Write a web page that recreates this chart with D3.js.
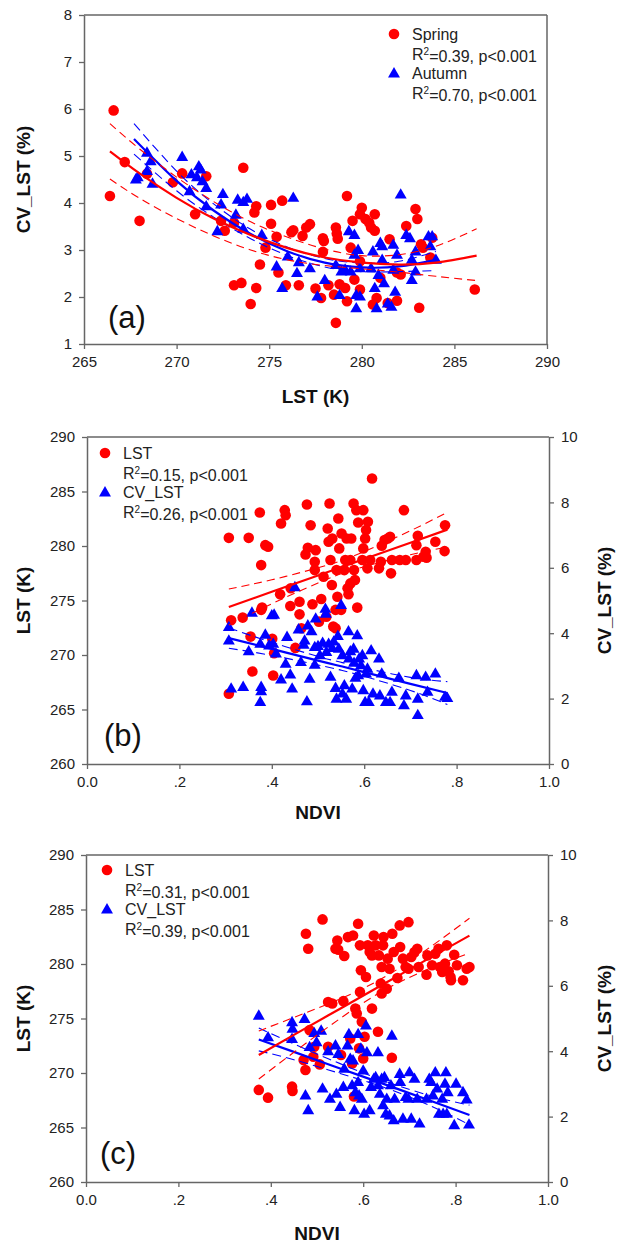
<!DOCTYPE html>
<html>
<head>
<meta charset="utf-8">
<script src="https://cdn.jsdelivr.net/npm/d3@7"></script>
<style>
  body { margin: 0; background: #fff; }
  svg { display: block; font-family: "Liberation Sans", Arial, sans-serif; }
</style>
</head>
<body>
<svg id="chart" width="617" height="1245"></svg>
<script>
/*
  Three scatter panels: CV_LST vs LST, then LST / CV_LST vs NDVI
*/

// ---- panel (a) : [LST, CV_LST] ----
var springPts = [[266.6,5.97],[266.4,4.15],[267.2,4.87],[268.0,3.62],[268.4,4.62],[269.8,4.44],[270.3,4.63],[271.0,3.76],
  [271.6,4.57],[272.4,3.62],[272.6,3.41],[273.1,3.58],[273.1,2.25],[273.5,2.30],[273.6,4.75],[274.0,1.85],[274.2,3.80],
  [274.3,3.93],[274.3,2.19],[274.5,2.69],[274.8,3.05],[275.1,3.56],[275.1,3.96],[275.4,3.28],[275.5,2.52],[275.7,4.05],
  [275.9,2.25],[276.2,3.38],[276.3,3.42],[276.6,2.25],[276.8,3.30],[277.0,3.48],[277.2,3.55],[277.5,2.18],[277.8,1.98],
  [277.9,3.25],[277.95,3.19],[277.9,2.96],[278.2,2.25],[278.5,2.05],[278.6,3.48],[278.65,3.35],[278.7,3.24],[278.6,1.45],
  [278.8,2.27],[279.1,2.19],[279.2,4.15],[279.2,1.91],[279.4,3.05],[279.5,3.62],[279.6,2.37],[279.9,3.76],[279.9,2.16],
  [280.0,3.90],[279.9,2.76],[280.2,3.66],[280.4,3.58],[280.5,3.48],[280.6,1.84],[280.7,3.41],[280.7,3.76],[280.8,1.98],
  [281.0,2.41],[281.4,1.87],[281.5,3.23],[281.9,2.52],[281.9,1.92],[282.1,2.48],[282.4,3.51],[282.9,3.87],[283.0,3.66],
  [283.1,1.77],[283.2,3.12],[283.3,3.05],[283.8,3.26],[283.7,2.84],[286.1,2.16]];
var autumnPts = [[267.8,4.51],[267.9,4.56],[268.4,5.08],[268.4,4.69],[268.6,4.90],[268.7,4.42],[270.3,4.99],[270.7,4.26],
  [270.8,4.62],[271.1,4.56],[271.2,4.79],[271.3,4.72],[271.4,4.47],[271.6,4.33],[271.6,3.94],[272.2,3.41],[272.5,4.20],
  [272.4,3.98],[273.2,3.76],[273.3,4.08],[273.6,4.03],[273.8,4.10],[273.6,3.46],[274.6,3.33],[275.4,2.66],[275.7,2.20],
  [276.0,2.87],[276.3,4.12],[276.5,2.52],[276.6,2.75],[277.2,2.62],[277.6,2.02],[278.0,2.37],[278.6,2.69],[278.8,2.05],
  [278.9,2.55],[279.1,2.59],[279.3,3.41],[279.4,2.55],[279.6,3.33],[279.6,2.91],[279.7,2.05],[279.7,1.77],[279.8,3.01],
  [279.9,2.02],[279.9,2.62],[280.5,2.62],[280.6,2.98],[280.7,2.20],[280.8,1.77],[280.9,2.48],[281.0,3.16],[281.1,3.09],
  [281.1,2.80],[281.2,2.30],[281.4,1.87],[281.6,1.80],[281.7,2.59],[281.7,3.12],[281.8,2.12],[281.9,2.91],[282.1,4.19],
  [282.4,3.33],[282.6,3.26],[282.7,2.80],[282.7,2.37],[282.9,2.98],[282.9,2.55],[283.6,3.30],[283.7,3.09],[283.8,3.30],
  [284.0,2.80]];
var springFit = [[266.4,5.10],[268,4.63],[270,4.11],[272,3.67],[274,3.32],[276,3.04],[278,2.84],[280,2.73],[282,2.69],[284,2.73],[286.2,2.88]];
var springUp  = [[266.4,5.69],[268,5.15],[270,4.55],[272,4.03],[274,3.60],[276,3.27],[278,3.02],[280,2.88],[282,2.90],[284,3.08],[286.2,3.45]];
var springLow = [[266.4,4.51],[268,4.10],[270,3.67],[272,3.30],[274,3.00],[276,2.79],[278,2.67],[280,2.60],[282,2.53],[284,2.44],[286.2,2.35]];
var autumnFit = [[267.7,5.36],[270,4.47],[272,3.84],[274,3.34],[276,2.97],[278,2.73],[280,2.63],[282,2.65],[284,2.79]];
var autumnUp  = [[267.7,5.69],[270,4.68],[272,3.98],[274,3.44],[276,3.06],[278,2.82],[280,2.72],[282,2.76],[284,2.97]];
var autumnLow = [[267.7,5.04],[270,4.26],[272,3.70],[274,3.24],[276,2.88],[278,2.64],[280,2.54],[282,2.54],[284,2.56]];

// ---- panel (b) : [NDVI, LST] and [NDVI, CV_LST] ----
var bLstPts = [[0.307,280.75],[0.307,266.44],[0.312,273.19],[0.337,273.43],[0.350,280.75],[0.354,271.69],[0.358,268.49],
  [0.374,283.07],[0.377,278.25],[0.379,274.35],[0.377,274.14],[0.386,280.08],[0.392,279.93],[0.401,271.48],[0.405,270.16],
  [0.403,268.12],[0.420,282.07],[0.418,275.57],[0.428,283.29],[0.430,282.83],[0.440,274.50],[0.441,276.12],[0.451,270.65],
  [0.460,274.89],[0.460,273.73],[0.464,272.45],[0.476,283.81],[0.473,279.23],[0.478,279.84],[0.484,281.91],[0.488,274.65],
  [0.495,279.62],[0.493,278.56],[0.493,277.79],[0.502,273.06],[0.507,275.14],[0.512,277.18],[0.518,273.52],[0.521,281.61],
  [0.523,280.39],[0.525,283.90],[0.527,278.71],[0.530,276.42],[0.531,280.69],[0.533,272.61],[0.538,272.45],[0.538,274.14],
  [0.540,277.79],[0.542,275.35],[0.544,282.52],[0.546,279.78],[0.550,274.14],[0.551,281.15],[0.557,277.79],[0.559,278.71],
  [0.562,280.69],[0.564,276.12],[0.566,275.57],[0.570,278.71],[0.570,276.57],[0.572,280.69],[0.577,283.90],[0.578,277.79],
  [0.580,276.88],[0.583,283.29],[0.585,274.35],[0.587,282.16],[0.596,278.71],[0.598,283.29],[0.598,279.78],[0.602,280.69],
  [0.604,281.46],[0.607,277.95],[0.608,282.22],[0.613,278.71],[0.617,286.19],[0.632,277.95],[0.636,278.56],[0.638,280.02],
  [0.644,280.54],[0.651,280.69],[0.656,280.85],[0.658,277.49],[0.660,278.71],[0.677,278.71],[0.686,283.29],[0.690,278.71],
  [0.713,278.71],[0.716,280.94],[0.713,280.08],[0.728,279.01],[0.733,279.47],[0.735,278.92],[0.754,280.39],[0.774,279.53],
  [0.775,281.91]];
var bCvPts = [[0.307,4.20],[0.307,3.79],[0.312,2.32],[0.338,2.37],[0.350,3.46],[0.357,4.64],[0.375,3.69],[0.377,2.37],
  [0.377,2.24],[0.375,1.91],[0.386,3.97],[0.400,4.56],[0.405,4.58],[0.394,3.64],[0.403,3.69],[0.409,3.39],[0.420,2.60],
  [0.430,3.08],[0.433,3.90],[0.440,2.75],[0.444,2.32],[0.450,5.42],[0.458,4.13],[0.463,3.13],[0.469,3.66],[0.471,3.79],
  [0.476,1.93],[0.478,4.25],[0.482,2.62],[0.486,4.07],[0.493,3.59],[0.493,3.05],[0.495,4.46],[0.500,3.62],[0.504,3.34],
  [0.510,3.72],[0.516,4.76],[0.517,4.61],[0.518,3.44],[0.523,3.69],[0.527,2.68],[0.531,3.56],[0.534,3.76],[0.538,2.34],
  [0.540,2.01],[0.543,3.93],[0.545,3.54],[0.550,4.88],[0.553,3.34],[0.553,2.17],[0.557,2.42],[0.561,2.01],[0.566,4.07],
  [0.567,3.24],[0.570,3.46],[0.574,2.32],[0.577,3.54],[0.578,3.11],[0.581,2.65],[0.585,3.95],[0.587,2.73],[0.589,3.24],
  [0.593,3.03],[0.596,3.34],[0.598,2.27],[0.602,1.91],[0.604,2.78],[0.607,2.93],[0.610,1.91],[0.615,3.49],[0.619,2.17],
  [0.632,3.24],[0.634,2.11],[0.638,2.78],[0.647,1.91],[0.656,1.91],[0.660,2.22],[0.675,2.65],[0.686,1.81],[0.690,2.11],
  [0.713,2.73],[0.716,2.01],[0.716,1.51],[0.733,2.68],[0.737,2.22],[0.754,2.78],[0.775,2.07],[0.780,2.03]];
var bLstFit = [[0.307,274.4],[0.4,275.8],[0.5,277.3],[0.55,278.05],[0.6,278.8],[0.7,280.3],[0.78,281.5]];
var bLstUp  = [[0.307,276.05],[0.4,276.9],[0.5,278.0],[0.55,278.65],[0.6,279.5],[0.7,281.4],[0.78,283.1]];
var bLstLow = [[0.307,272.75],[0.4,274.7],[0.5,276.6],[0.55,277.45],[0.6,278.1],[0.7,279.2],[0.78,279.9]];
var bCvFit = [[0.307,3.85],[0.4,3.52],[0.5,3.16],[0.55,2.99],[0.6,2.81],[0.7,2.45],[0.78,2.17]];
var bCvUp  = [[0.307,4.16],[0.4,3.72],[0.5,3.29],[0.55,3.11],[0.6,2.94],[0.7,2.65],[0.78,2.52]];
var bCvLow = [[0.307,3.54],[0.4,3.32],[0.5,3.03],[0.55,2.87],[0.6,2.68],[0.7,2.25],[0.78,1.82]];

// ---- panel (c) ----
var cLstPts = [[0.374,268.45],[0.394,267.74],[0.446,268.75],[0.447,268.35],[0.471,271.19],[0.476,282.77],[0.475,270.27],
  [0.481,281.40],[0.484,273.93],[0.492,271.49],[0.494,272.41],[0.506,270.79],[0.512,284.09],[0.524,276.52],[0.524,272.41],
  [0.533,276.37],[0.540,281.40],[0.544,282.16],[0.546,281.31],[0.552,271.65],[0.557,276.59],[0.559,280.73],[0.567,282.47],
  [0.572,273.17],[0.576,270.88],[0.578,282.62],[0.580,267.84],[0.583,275.91],[0.586,275.46],[0.589,283.69],[0.591,272.26],
  [0.593,281.71],[0.593,277.44],[0.595,279.42],[0.597,274.70],[0.600,271.34],[0.603,273.32],[0.606,278.81],[0.610,281.71],
  [0.614,281.10],[0.619,280.79],[0.619,275.91],[0.623,282.62],[0.627,281.71],[0.632,273.78],[0.634,280.79],[0.638,278.20],
  [0.640,279.73],[0.643,281.71],[0.644,282.47],[0.640,277.29],[0.651,277.74],[0.653,280.49],[0.657,279.57],[0.662,271.40],
  [0.663,282.77],[0.666,281.10],[0.674,278.72],[0.679,283.54],[0.680,281.56],[0.686,280.49],[0.692,279.73],[0.698,283.84],
  [0.698,279.57],[0.704,280.64],[0.711,281.10],[0.717,281.40],[0.720,279.73],[0.737,279.02],[0.739,280.79],[0.749,279.88],
  [0.756,280.94],[0.763,281.40],[0.766,279.73],[0.771,279.27],[0.777,280.03],[0.781,281.71],[0.785,279.33],[0.789,278.81],
  [0.790,278.51],[0.797,280.85],[0.803,279.88],[0.816,278.51],[0.824,279.57],[0.830,279.73]];
var cCvPts = [[0.374,5.10],[0.394,4.44],[0.446,4.90],[0.447,4.70],[0.446,4.39],[0.473,5.00],[0.475,2.66],[0.481,2.21],
  [0.484,4.14],[0.494,4.57],[0.499,4.29],[0.509,4.64],[0.512,2.87],[0.524,4.01],[0.528,2.56],[0.540,4.19],[0.542,2.71],
  [0.546,3.93],[0.550,2.31],[0.557,2.92],[0.559,3.48],[0.566,4.19],[0.569,4.54],[0.572,3.78],[0.576,2.97],[0.578,3.73],
  [0.581,2.21],[0.583,2.76],[0.589,4.54],[0.589,3.07],[0.591,2.66],[0.595,4.09],[0.597,2.56],[0.600,3.42],[0.602,2.10],
  [0.606,4.80],[0.608,3.98],[0.614,2.21],[0.617,2.92],[0.623,3.17],[0.627,3.22],[0.632,3.98],[0.632,2.97],[0.636,2.71],
  [0.640,3.17],[0.643,2.36],[0.646,3.22],[0.649,2.10],[0.651,2.56],[0.657,2.05],[0.660,2.97],[0.662,4.49],[0.666,1.90],
  [0.668,2.56],[0.679,3.32],[0.680,3.07],[0.686,1.95],[0.692,2.61],[0.698,2.56],[0.700,3.37],[0.704,1.95],[0.711,3.17],
  [0.717,2.56],[0.722,1.80],[0.737,2.56],[0.743,3.17],[0.747,3.07],[0.751,2.66],[0.756,3.37],[0.760,2.87],[0.764,2.10],
  [0.771,2.56],[0.773,2.10],[0.777,3.02],[0.779,3.37],[0.781,2.10],[0.783,2.76],[0.797,1.75],[0.801,3.02],[0.816,2.76],
  [0.824,2.54],[0.829,1.77]];
var cLstFit = [[0.374,271.65],[0.45,273.5],[0.55,275.9],[0.65,278.3],[0.75,280.7],[0.83,282.6]];
var cLstUp  = [[0.374,273.85],[0.45,275.1],[0.55,276.8],[0.65,278.9],[0.75,281.7],[0.83,284.2]];
var cLstLow = [[0.374,269.45],[0.45,271.9],[0.55,275.0],[0.65,277.7],[0.75,279.7],[0.83,281.0]];
var cCvFit = [[0.374,4.36],[0.45,3.98],[0.55,3.47],[0.65,2.97],[0.75,2.46],[0.83,2.05]];
var cCvUp  = [[0.374,4.71],[0.45,4.22],[0.55,3.62],[0.65,3.07],[0.75,2.62],[0.83,2.35]];
var cCvLow = [[0.374,4.01],[0.45,3.74],[0.55,3.32],[0.65,2.87],[0.75,2.30],[0.83,1.75]];

// ticks and legend text
var lstKTicks = [265, 270, 275, 280, 285, 290];
var cvATicks = [1, 2, 3, 4, 5, 6, 7, 8];
var ndviTicks = [0, 0.2, 0.4, 0.6, 0.8, 1.0];
var lstTicks = [260, 265, 270, 275, 280, 285, 290];
var cvTicks = [0, 2, 4, 6, 8, 10];
var legendNamesA = ["Spring", "Autumn"];
var legendR2A = ["0.39", "0.70"];
var legendNamesBC = ["LST", "CV_LST"];
var legendR2B = ["0.15", "0.26"];
var legendR2C = ["0.31", "0.39"];

var RED = "#ff0000", BLUE = "#0000ff", AXIS = "#666", INK = "#222";
var svg = d3.select("#chart");
svg.append("rect").attr("width", 617).attr("height", 1245).attr("fill", "#fff");

function ndviFmt(d) {
  if (d === 0) return "0.0";
  if (d === 1) return "1.0";
  return d3.format(".1f")(d).replace(/^0/, "");
}

function styleAxis(g) {
  g.select(".domain").attr("stroke", AXIS).attr("stroke-width", 1.5);
  g.selectAll(".tick line").attr("stroke", AXIS).attr("stroke-width", 1.3);
  g.selectAll(".tick text").attr("fill", INK).style("font-size", "15px")
    .style("font-family", "'Liberation Sans', Arial, sans-serif");
}

function drawPanel(p) {
  var box = p.box;
  var x = d3.scaleLinear().domain(p.xDomain).range([box.left, box.right]),
      y = d3.scaleLinear().domain(p.yDomain).range([box.bottom, box.top]),
      y2 = p.y2Domain ? d3.scaleLinear().domain(p.y2Domain).range([box.bottom, box.top]) : y;
  var g = svg.append("g");

  // frame lines (top, and right when there is no second axis)
  g.append("line").attr("x1", box.left).attr("x2", box.right).attr("y1", box.top).attr("y2", box.top)
    .attr("stroke", AXIS).attr("stroke-width", 1.5);
  if (!p.y2Domain) {
    g.append("line").attr("x1", box.right).attr("x2", box.right).attr("y1", box.top).attr("y2", box.bottom)
      .attr("stroke", AXIS).attr("stroke-width", 1.5);
  }

  // points
  g.selectAll(".dot").data(p.redPts).enter().append("circle")
    .attr("cx", function(d) { return x(d[0]); })
    .attr("cy", function(d) { return y(d[1]); })
    .attr("r", 5.3).attr("fill", RED);
  g.selectAll(".tri").data(p.bluePts).enter().append("path")
    .attr("d", d3.symbol().type(d3.symbolTriangle).size(62))
    .attr("transform", function(d) { return "translate(" + x(d[0]) + "," + (y2(d[1]) + 1) + ")"; })
    .attr("fill", BLUE);

  // fit lines
  function line(sc) {
    return d3.line().x(function(d) { return x(d[0]); }).y(function(d) { return sc(d[1]); }).curve(d3.curveNatural);
  }
  [[p.blueFit[1], BLUE, 1.1, "9,5"], [p.blueFit[2], BLUE, 1.1, "9,5"], [p.blueFit[0], BLUE, 2.2, null]].forEach(function(l) {
    g.append("path").datum(l[0]).attr("d", line(y2)).attr("fill", "none")
      .attr("stroke", l[1]).attr("stroke-width", l[2]).attr("stroke-dasharray", l[3]);
  });
  [[p.redFit[1], RED, 1.1, "8,5"], [p.redFit[2], RED, 1.1, "8,5"], [p.redFit[0], RED, 2.2, null]].forEach(function(l) {
    g.append("path").datum(l[0]).attr("d", line(y)).attr("fill", "none")
      .attr("stroke", l[1]).attr("stroke-width", l[2]).attr("stroke-dasharray", l[3]);
  });

  // axes
  g.append("g").attr("transform", "translate(0," + box.bottom + ")")
    .call(d3.axisBottom(x).tickValues(p.xTicks).tickFormat(p.xFmt).tickSize(5).tickSizeOuter(0).tickPadding(7))
    .call(styleAxis);
  g.append("g").attr("transform", "translate(" + box.left + ",0)")
    .call(d3.axisLeft(y).tickValues(p.yTicks).tickFormat(d3.format("d")).tickSize(5).tickSizeOuter(0).tickPadding(7))
    .call(styleAxis);
  if (p.y2Domain) {
    g.append("g").attr("transform", "translate(" + box.right + ",0)")
      .call(d3.axisRight(y2).tickValues(p.y2Ticks).tickFormat(d3.format("d")).tickSize(5).tickSizeOuter(0).tickPadding(7))
      .call(styleAxis);
    g.append("text").attr("transform", "translate(604," + ((box.top + box.bottom) / 2) + ") rotate(-90)")
      .attr("text-anchor", "middle").attr("dy", "0.35em")
      .style("font-size", "19px").style("font-weight", "bold").attr("fill", "#111").text(p.y2Label);
  }

  // axis titles
  g.append("text").attr("x", (box.left + box.right) / 2).attr("y", box.bottom + p.xTitleOffset)
    .attr("text-anchor", "middle").attr("dy", "0.35em")
    .style("font-size", "19px").style("font-weight", "bold").attr("fill", "#111").text(p.xLabel);
  g.append("text").attr("transform", "translate(23," + ((box.top + box.bottom) / 2) + ") rotate(-90)")
    .attr("text-anchor", "middle").attr("dy", "0.35em")
    .style("font-size", "19px").style("font-weight", "bold").attr("fill", "#111").text(p.yLabel);

  // panel tag
  g.append("text").attr("x", p.tag[1]).attr("y", p.tag[2]).attr("text-anchor", "middle").attr("dy", "0.35em")
    .style("font-size", "31px").attr("fill", "#111").text(p.tag[0]);

  // legend
  var lg = p.legend;
  [0, 1].forEach(function(i) {
    var ly = lg.y + i * 39;
    if (i === 0) {
      g.append("circle").attr("cx", lg.x).attr("cy", ly).attr("r", 5.3).attr("fill", RED);
    } else {
      g.append("path").attr("d", d3.symbol().type(d3.symbolTriangle).size(62))
        .attr("transform", "translate(" + lg.x + "," + (ly + 1) + ")").attr("fill", BLUE);
    }
    g.append("text").attr("x", lg.x + 18).attr("y", ly).attr("dy", "0.35em")
      .style("font-size", "16px").attr("fill", INK).text(lg.names[i]);
    var t = g.append("text").attr("x", lg.x + 18).attr("y", ly + 20).attr("dy", "0.35em")
      .style("font-size", "16px").attr("fill", INK);
    t.append("tspan").text("R");
    t.append("tspan").attr("dy", "-0.45em").style("font-size", "10px").text("2");
    t.append("tspan").attr("dy", "0.45em").text("=" + lg.r2[i] + ", p<0.001");
  });
}

drawPanel({
  box: {left: 84, right: 547, top: 15, bottom: 344},
  xDomain: [265, 290], yDomain: [1, 8],
  xTicks: lstKTicks, yTicks: cvATicks, xFmt: d3.format("d"),
  redPts: springPts, bluePts: autumnPts,
  redFit: [springFit, springUp, springLow], blueFit: [autumnFit, autumnUp, autumnLow],
  xLabel: "LST (K)", yLabel: "CV_LST (%)", xTitleOffset: 52,
  tag: ["(a)", 127, 317],
  legend: {x: 394, y: 34, names: legendNamesA, r2: legendR2A}
});

drawPanel({
  box: {left: 87, right: 549, top: 437, bottom: 764},
  xDomain: [0, 1], yDomain: [260, 290], y2Domain: [0, 10],
  xTicks: ndviTicks, yTicks: lstTicks, y2Ticks: cvTicks, xFmt: ndviFmt,
  redPts: bLstPts, bluePts: bCvPts,
  redFit: [bLstFit, bLstUp, bLstLow], blueFit: [bCvFit, bCvUp, bCvLow],
  xLabel: "NDVI", yLabel: "LST (K)", y2Label: "CV_LST (%)", xTitleOffset: 48,
  tag: ["(b)", 123, 735],
  legend: {x: 105, y: 453, names: legendNamesBC, r2: legendR2B}
});

drawPanel({
  box: {left: 86, right: 548, top: 855, bottom: 1182},
  xDomain: [0, 1], yDomain: [260, 290], y2Domain: [0, 10],
  xTicks: ndviTicks, yTicks: lstTicks, y2Ticks: cvTicks, xFmt: ndviFmt,
  redPts: cLstPts, bluePts: cCvPts,
  redFit: [cLstFit, cLstUp, cLstLow], blueFit: [cCvFit, cCvUp, cCvLow],
  xLabel: "NDVI", yLabel: "LST (K)", y2Label: "CV_LST (%)", xTitleOffset: 51,
  tag: ["(c)", 118, 1153],
  legend: {x: 107, y: 870, names: legendNamesBC, r2: legendR2C}
});
</script>
</body>
</html>
